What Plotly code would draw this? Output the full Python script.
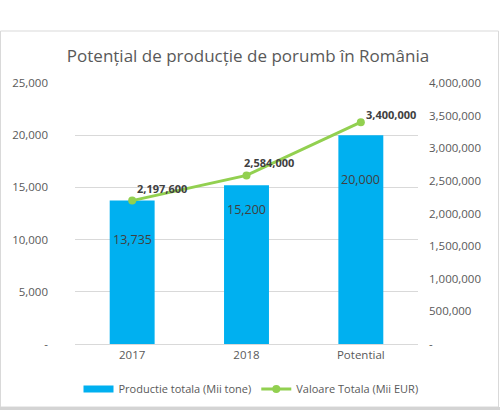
import plotly.graph_objects as go

categories = ["2017", "2018", "Potential"]
productie = [13735, 15200, 20000]
valoare = [2197600, 2584000, 3400000]
left_ticks = [0, 5000, 10000, 15000, 20000, 25000]
left_ticktext = ["-", "5,000", "10,000", "15,000", "20,000", "25,000"]
right_ticks = [0, 500000, 1000000, 1500000, 2000000, 2500000, 3000000, 3500000, 4000000]
right_ticktext = ["-", "500,000", "1,000,000", "1,500,000", "2,000,000", "2,500,000",
                  "3,000,000", "3,500,000", "4,000,000"]
bar_name = "Productie totala (Mii tone)"
line_name = "Valoare Totala (Mii EUR)"

BLUE = "#00B0F0"
GREEN = "#92D050"
GRAY = "#595959"
DARK = "#404040"
FONT = "Open Sans"

W, H = 500, 417
L, R, T, B = 75, 82, 83, 73
pw, ph = W - L - R, H - T - B

def px_x(x):
    return (x - L) / pw

def px_y(y):
    return (H - B - y) / ph

fig = go.Figure()
fig.add_trace(go.Bar(
    x=categories, y=productie, name=bar_name, showlegend=False,
    marker=dict(color=BLUE, line=dict(width=0)), yaxis="y",
))
# legend entry styled like Excel's wide flat bar swatch
fig.add_trace(go.Scatter(
    x=[None], y=[None], name=bar_name, mode="lines",
    line=dict(color=BLUE, width=7), hoverinfo="skip",
))
fig.add_trace(go.Scatter(
    x=categories, y=valoare, name=line_name, yaxis="y2",
    mode="lines+markers", line=dict(color=GREEN, width=3),
    marker=dict(color=GREEN, size=8),
))

# annotations use category index positions (avoids "2017" read as an index)
bar_label_offsets = [-39, -24, -44]
for i, (v, off) in enumerate(zip(productie, bar_label_offsets)):
    fig.add_annotation(x=i, y=v, xref="x", yref="y", text=f"{v:,}", showarrow=False,
                       yshift=off, font=dict(family=FONT, size=12.5, color=DARK))

line_label_shifts = [(3, 12), (-5, 13), (3, 8)]
for i, (v, (dx, dy)) in enumerate(zip(valoare, line_label_shifts)):
    fig.add_annotation(x=i, y=v, xref="x", yref="y2", text=f"<b>{v:,}</b>", showarrow=False,
                       xanchor="left", yanchor="middle", xshift=dx, yshift=dy,
                       font=dict(family=FONT, size=11, color=DARK))

fig.update_layout(
    width=W, height=H,
    margin=dict(l=L, r=R, t=T, b=B),
    paper_bgcolor="white", plot_bgcolor="white",
    font=dict(family=FONT, size=11, color=GRAY),
    title=dict(text="Potențial de producție de porumb în România",
               x=0.496, xanchor="center", y=1 - 56 / H, yanchor="middle",
               font=dict(family=FONT, size=17, color=GRAY)),
    bargap=0.607,
    showlegend=True,
    legend=dict(orientation="h", x=px_x(251), xanchor="center",
                y=px_y(389), yanchor="middle",
                font=dict(family=FONT, size=11, color=GRAY),
                itemwidth=30, tracegroupgap=0),
    xaxis=dict(type="category", range=[-0.5, len(categories) - 0.5],
               showgrid=False, showline=True, linecolor="#d9d9d9",
               linewidth=1, ticks="", tickfont=dict(family=FONT, size=11.5, color=GRAY)),
    yaxis=dict(range=[0, 25000], tickvals=left_ticks, ticktext=left_ticktext,
               showgrid=True, gridcolor="#d9d9d9", gridwidth=1, zeroline=False,
               ticks="", ticklabelstandoff=26,
               tickfont=dict(family=FONT, size=11.5, color=GRAY)),
    yaxis2=dict(range=[0, 4000000], tickvals=right_ticks, ticktext=right_ticktext,
                overlaying="y", side="right", showgrid=False, zeroline=False,
                ticks="", ticklabelstandoff=10,
                tickfont=dict(family=FONT, size=11.5, color=GRAY)),
)

# chart frame
fig.add_shape(type="rect", xref="paper", yref="paper",
              x0=px_x(0.5), x1=px_x(498.5), y0=px_y(407), y1=px_y(31),
              line=dict(color="#d9d9d9", width=1), fillcolor="rgba(0,0,0,0)", layer="below")
fig.add_shape(type="line", xref="paper", yref="paper",
              x0=px_x(0), x1=px_x(500), y0=px_y(408.5), y1=px_y(408.5),
              line=dict(color="#d4d4d4", width=3))

fig.write_html("out.html", config={"displayModeBar": False},
               post_script="document.body.style.margin='0';")
